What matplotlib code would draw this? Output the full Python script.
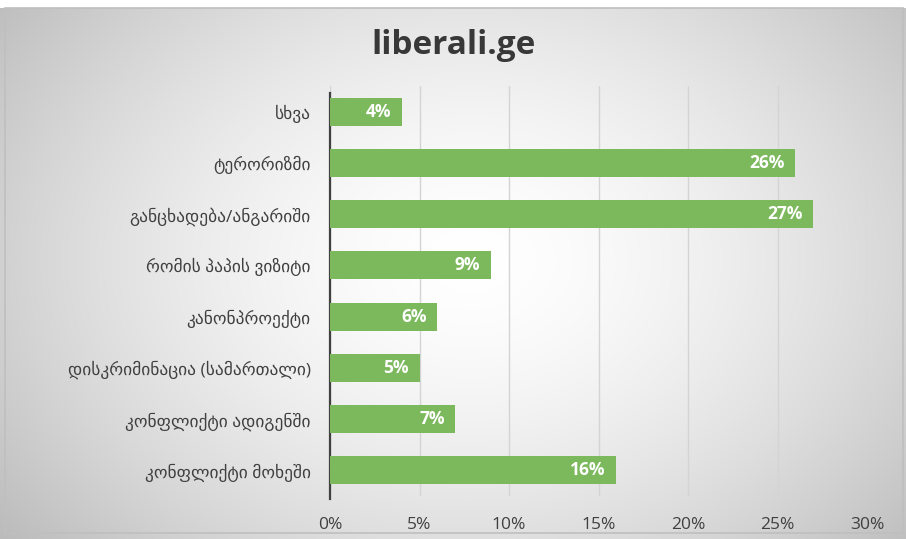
import numpy as np
import matplotlib.pyplot as plt
from matplotlib.patches import Rectangle

# data (top to bottom as in the chart)
categories = [
    "სხვა",
    "ტერორიზმი",
    "განცხადება/ანგარიში",
    "რომის პაპის ვიზიტი",
    "კანონპროექტი",
    "დისკრიმინაცია (სამართალი)",
    "კონფლიქტი ადიგენში",
    "კონფლიქტი მოხეში",
]
shares = [4, 26, 27, 9, 6, 5, 7, 16]
xticks = [0, 5, 10, 15, 20, 25, 30]

plt.rcParams['font.family'] = ['Open Sans', 'DejaVu Sans']

W, H = 906, 539
fig = plt.figure(figsize=(W / 100, H / 100), dpi=100)

# radial gradient background
bg = fig.add_axes([0, 0, 1, 1], zorder=-10)
yy, xx = np.mgrid[0:H, 0:W]
r = np.sqrt(((xx - 470) / 560.0) ** 2 + ((yy - 260) / 420.0) ** 2)
shade = 1.0 - 0.24 * np.clip(r, 0, 1.2) ** 1.6
bg.imshow(np.dstack([shade] * 3), extent=[0, 1, 0, 1], aspect='auto', origin='upper')
bg.set_axis_off()
fig.add_artist(Rectangle((5 / W, 1 - 533 / H), 898 / W, 525 / H,
                         transform=fig.transFigure, fill=False,
                         edgecolor='#bfbfbf', lw=1.2))
fig.add_artist(Rectangle((0, 1 - 8 / H), 1, 8 / H, transform=fig.transFigure,
                         color='white', lw=0, zorder=-5))

ax = fig.add_axes([330 / W, 1 - 496 / H, 537 / W, 410 / H])
ax.patch.set_alpha(0)
y = np.arange(len(categories))
bars = ax.barh(y, shares, height=0.55, color='#7cb85c', zorder=3)
ax.set_ylim(len(categories) - 0.5, -0.5)
ax.set_xlim(0, 30)
ax.set_xticks(xticks)
ax.set_xticklabels([f"{v}%" for v in xticks], fontsize=12.5, color='#404040')
ax.set_yticks(y)
ax.set_yticklabels(categories, fontsize=12.5, color='#404040')
ax.tick_params(axis='y', length=0, pad=14)
ax.tick_params(axis='x', length=0, pad=15)
ax.grid(axis='x', color='#d4d4d4', lw=1, zorder=0)
for s in ['top', 'right', 'bottom']:
    ax.spines[s].set_visible(False)
ax.spines['left'].set_color('#404040')
ax.spines['left'].set_linewidth(1.6)
ax.spines['left'].set_bounds(len(categories) - 0.45, -0.37)

for b, v in zip(bars, shares):
    ax.text(b.get_width() - 0.6, b.get_y() + b.get_height() / 2, f"{v}%",
            ha='right', va='center', color='white', fontsize=12.5,
            fontweight='bold', zorder=4)

fig.text(0.5, 1 - 45 / H, "liberali.ge", ha='center', va='center',
         fontsize=24, fontweight='bold', color='#383838')

fig.savefig('out.png', dpi=100)
